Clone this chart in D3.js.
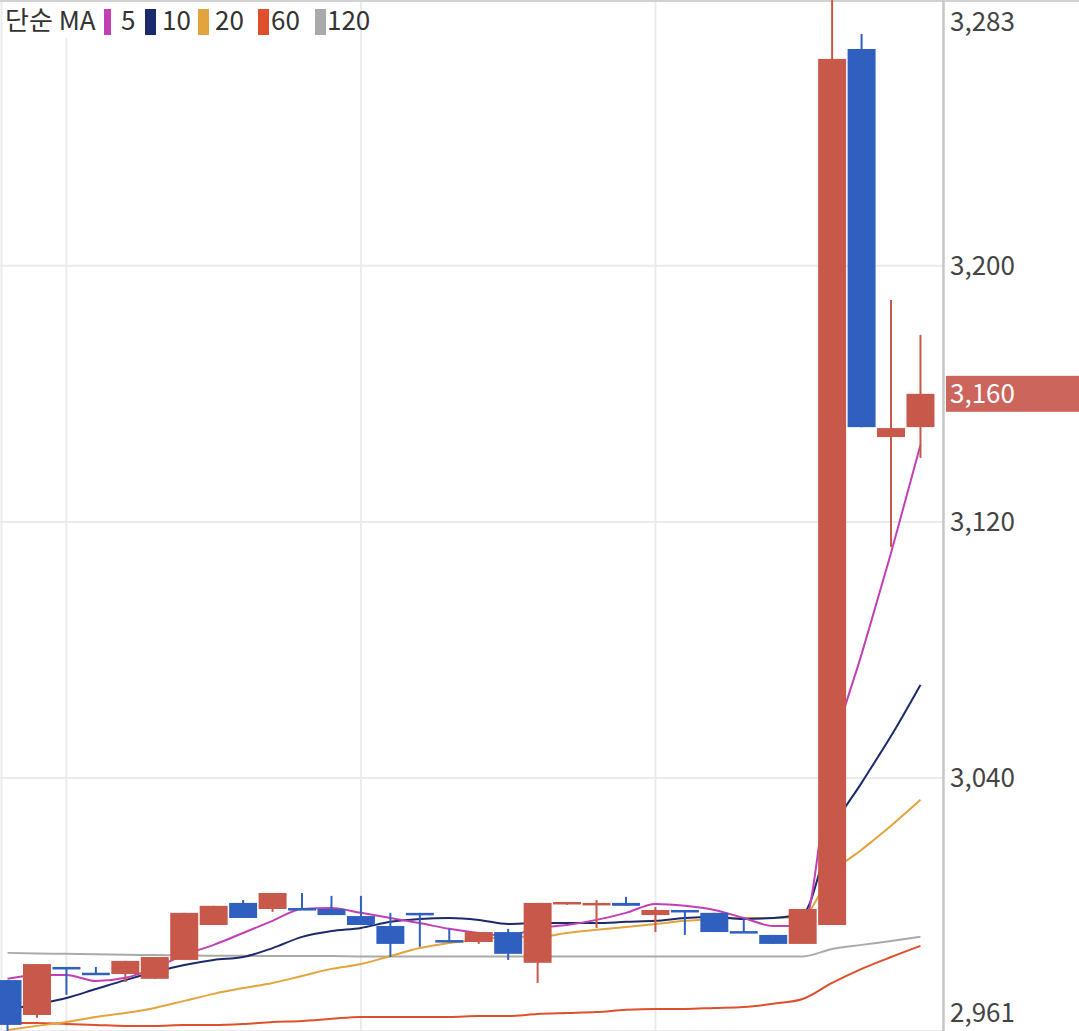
<!DOCTYPE html>
<html>
<head>
<meta charset="utf-8">
<script src="https://cdn.jsdelivr.net/npm/d3@7"></script>
<style>
  html, body { margin: 0; padding: 0; background: #fff; }
  svg { display: block; font-family: "Noto Sans CJK KR", "Noto Sans", sans-serif; }
</style>
</head>
<body>
<div id="chart"></div>
<script>
// candles, oldest to newest
var days = ["1","2","3","4","5","6","7","8","9","10","11","12","13","14","15","16",
            "17","18","19","20","21","22","23","24","25","26","27","28","29","30","31","32"];
var opens  = [2976.9,2966.0,2981.0,2979.2,2978.8,2977.3,2983.2,2994.1,3001.0,2999.1,2999.4,2999.1,2996.9,2993.8,2997.9,2989.4,
              2988.8,2991.9,2982.3,3000.7,3000.4,3001.0,2997.2,2998.8,2997.9,2992.2,2991.0,2988.2,2994.1,3267.7,3146.5,3149.6];
var highs  = [2976.9,2981.9,2981.0,2981.0,2982.9,2984.1,2997.9,3000.1,3001.9,3004.1,3004.1,3003.2,3003.2,2997.9,2997.9,2992.9,
              2991.9,2992.9,3001.0,3001.3,3001.9,3002.9,2999.7,2998.8,2997.9,2996.3,2991.0,2999.1,3290.0,3272.4,3189.3,3178.4];
var lows   = [2961.0,2965.1,2972.3,2978.8,2976.3,2977.3,2983.2,2994.1,2996.3,2998.2,2998.8,2997.2,2994.1,2984.1,2987.3,2988.8,
              2988.2,2983.2,2976.0,3000.4,2993.2,3000.1,2991.9,2991.0,2991.9,2991.9,2988.2,2988.2,2994.1,3149.6,3112.2,3140.0];
var closes = [2962.9,2981.9,2980.4,2978.8,2982.9,2984.1,2997.9,3000.1,2996.3,3004.1,2998.8,2997.2,2994.1,2988.2,2997.2,2988.8,
              2991.9,2985.1,3001.0,3001.3,3001.0,3000.1,2998.8,2998.2,2991.9,2991.9,2988.2,2999.1,3264.6,3149.6,3149.3,3160.0];

// moving averages
var ma5   = [2977.3,2978.5,2978.5,2976.6,2977.6,2980.7,2984.8,2987.9,2991.6,2995.4,2999.1,2999.4,2997.9,2996.3,2994.7,2992.9,
             2991.6,2990.7,2993.2,2994.1,2995.7,2997.9,3000.7,3000.1,2998.8,2996.3,2993.8,2993.8,3047.2,3078.7,3110.3,3144.0];
var ma10  = [2967.6,2969.4,2971.3,2974.1,2976.9,2979.4,2981.6,2983.2,2984.1,2986.9,2990.4,2992.2,2993.2,2995.1,2996.0,2996.3,
             2995.7,2994.4,2994.7,2994.7,2994.7,2995.1,2995.4,2996.3,2996.6,2996.0,2996.3,2997.6,3023.5,3038.5,3053.1,3069.1];
var ma20  = [2961.3,2962.6,2963.8,2965.4,2966.6,2968.2,2970.4,2972.6,2974.4,2976.0,2978.2,2980.4,2981.9,2984.4,2986.9,2988.5,
             2989.4,2990.4,2990.4,2991.6,2992.6,2993.5,2994.4,2995.4,2996.0,2996.3,2996.3,2996.9,3010.3,3017.6,3025.1,3033.2];
var ma60  = [2963.5,2963.5,2963.2,2962.9,2962.6,2962.6,2962.9,2962.9,2963.2,2963.8,2964.1,2964.8,2965.4,2965.4,2965.4,2965.4,
             2965.7,2965.7,2966.3,2966.6,2966.9,2967.6,2967.9,2967.9,2968.2,2968.5,2969.5,2971.0,2976.0,2980.4,2984.1,2987.6];
var ma120 = [2985.4,2985.2,2985.1,2985.0,2984.8,2984.7,2984.6,2984.5,2984.5,2984.4,2984.4,2984.4,2984.3,2984.3,2984.3,2984.3,
             2984.3,2984.3,2984.3,2984.3,2984.3,2984.3,2984.3,2984.3,2984.3,2984.3,2984.3,2984.3,2986.6,2987.9,2989.1,2990.4];

var maLabels = ["5", "10", "20", "60", "120"];
var maSeries = [ma5, ma10, ma20, ma60, ma120];
var yTicks = [3283, 3200, 3120, 3040, 2961];
var gridDays = ["3", "13", "23"];
var lastPrice = 3160;

var maColors = ["#c23fb6", "#1b2a6b", "#e2a43c", "#df4f2c", "#aaaaaa"];
var UP = "#c8584a", DOWN = "#2f60bf";

var width = 1079, height = 1031, axisX = 943;

var svg = d3.select("#chart").append("svg")
    .attr("width", width)
    .attr("height", height);

var x = d3.scaleBand()
    .domain(days)
    .range([-7.2, 935.2])
    .paddingInner(0.05)
    .paddingOuter(0.025);

var y = d3.scaleLinear()
    .domain([2961, 3283])
    .range([height, 0]);

function cx(d) { return x(d) + x.bandwidth() / 2; }

// grid
svg.append("g").selectAll("line.h")
    .data(yTicks)
  .enter().append("line")
    .attr("x1", 0).attr("x2", axisX)
    .attr("y1", function(d) { return y(d); })
    .attr("y2", function(d) { return y(d); })
    .attr("stroke", "#ebebeb")
    .attr("stroke-width", 2);

svg.append("g").selectAll("line.v")
    .data(gridDays)
  .enter().append("line")
    .attr("x1", function(d) { return cx(d); })
    .attr("x2", function(d) { return cx(d); })
    .attr("y1", 0).attr("y2", height)
    .attr("stroke", "#ebebeb")
    .attr("stroke-width", 2);

svg.append("line")
    .attr("x1", 1.5).attr("x2", 1.5).attr("y1", 0).attr("y2", height)
    .attr("stroke", "#ebebeb").attr("stroke-width", 2);

svg.append("line")
    .attr("x1", 0).attr("x2", width).attr("y1", 1).attr("y2", 1)
    .attr("stroke", "#d2d2d2").attr("stroke-width", 2);

// moving averages (under the candles)
var line = d3.line()
    .x(function(d, i) { return cx(days[i]); })
    .y(function(d) { return y(d); })
    .curve(d3.curveMonotoneX);

svg.append("g").selectAll("path")
    .data(maSeries.slice().reverse())
  .enter().append("path")
    .attr("d", line)
    .attr("fill", "none")
    .attr("stroke", function(d, i) { return maColors[maColors.length - 1 - i]; })
    .attr("stroke-width", 2);

// candles
var candles = days.map(function(d, i) {
  return {day: d, o: opens[i], h: highs[i], l: lows[i], c: closes[i]};
});

var cg = svg.append("g").selectAll("g")
    .data(candles)
  .enter().append("g");

cg.append("line")
    .attr("x1", function(d) { return cx(d.day); })
    .attr("x2", function(d) { return cx(d.day); })
    .attr("y1", function(d) { return y(d.h); })
    .attr("y2", function(d) { return y(d.l); })
    .attr("stroke", function(d) { return d.c >= d.o ? UP : DOWN; })
    .attr("stroke-width", 2);

cg.append("rect")
    .attr("x", function(d) { return x(d.day); })
    .attr("width", x.bandwidth())
    .attr("y", function(d) { return y(Math.max(d.o, d.c)); })
    .attr("height", function(d) { return Math.max(2.5, Math.abs(y(d.o) - y(d.c))); })
    .attr("fill", function(d) { return d.c >= d.o ? UP : DOWN; });

// right axis
var axis = svg.append("g")
    .attr("transform", "translate(" + axisX + ",0)")
    .call(d3.axisRight(y).tickValues(yTicks).tickFormat(d3.format(",")).tickSize(0).tickPadding(7));

axis.select(".domain").attr("stroke", "#c6c6c6").attr("stroke-width", 2.5);
axis.selectAll("text")
    .attr("font-size", 26)
    .attr("fill", "#444")
    .attr("font-family", "\"Noto Sans CJK KR\", \"Noto Sans\", sans-serif");
// keep the end labels inside the picture
axis.selectAll(".tick text")
    .filter(function(d) { return d === 3283; })
    .attr("dy", "1.17em");
axis.selectAll(".tick text")
    .filter(function(d) { return d === 2961; })
    .attr("dy", "-0.36em");

// last price tag
svg.append("rect")
    .attr("x", axisX + 3)
    .attr("y", y(lastPrice) - 18)
    .attr("width", width - axisX - 3)
    .attr("height", 36)
    .attr("fill", "#cc665d");
svg.append("text")
    .attr("x", axisX + 7)
    .attr("y", y(lastPrice))
    .attr("dy", "0.35em")
    .attr("font-size", 26)
    .attr("fill", "#fff")
    .text(d3.format(",")(lastPrice));

// legend
var legend = svg.append("g");
legend.append("rect")
    .attr("x", 3).attr("y", 2).attr("width", 355).attr("height", 36)
    .attr("fill", "#fff");
legend.append("text")
    .attr("x", 5).attr("y", 30)
    .attr("font-size", 26)
    .attr("fill", "#333")
    .text("단순 MA");

var legX = [104, 145, 198, 258, 315];
var legTextX = [121, 162, 215, 271, 327];
maLabels.forEach(function(lbl, i) {
  legend.append("rect")
      .attr("x", legX[i]).attr("y", 9)
      .attr("width", i === 0 ? 7 : 11).attr("height", 26)
      .attr("fill", maColors[i]);
  legend.append("text")
      .attr("x", legTextX[i])
      .attr("y", 30)
      .attr("font-size", 26)
      .attr("fill", "#333")
      .text(lbl);
});
</script>
</body>
</html>
